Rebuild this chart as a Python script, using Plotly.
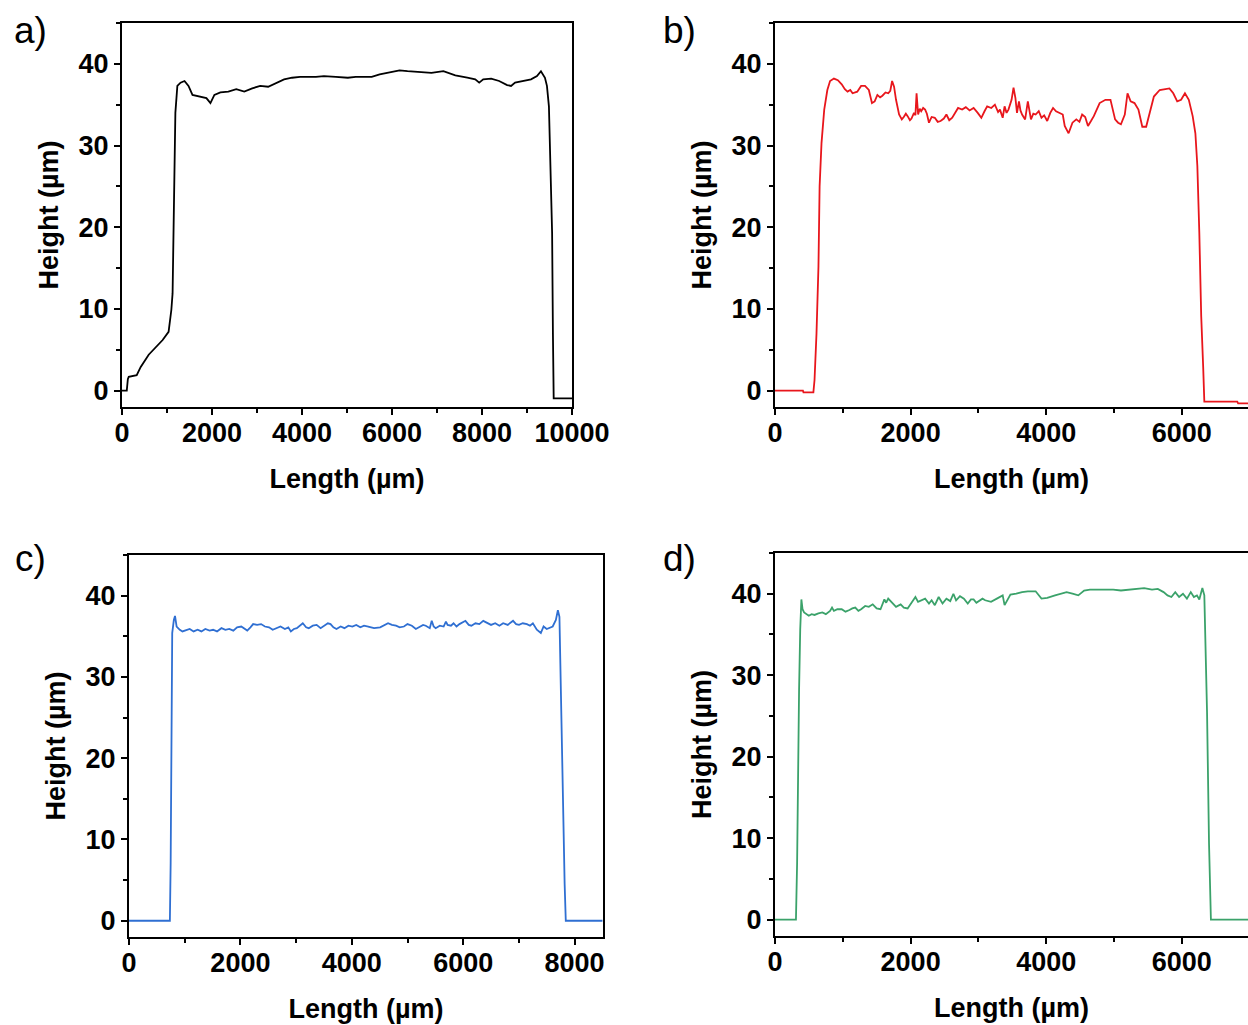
import plotly.graph_objects as go

W, H = 1248, 1025

# ---------------- data ----------------
a_x = [0, 106, 130, 150, 327, 416, 593, 770, 903, 1035,
       1053, 1097, 1124, 1142, 1186, 1230, 1301, 1389, 1478, 1566,
       1743, 1876, 1965, 2053, 2186, 2363, 2540, 2717, 2894, 3071,
       3248, 3425, 3602, 3779, 3956, 4310, 4487, 4752, 5018, 5195,
       5549, 5726, 5991, 6168, 6345, 6611, 6876, 7142, 7407, 7673,
       7850, 7938, 8027, 8204, 8381, 8558, 8646, 8735, 8912, 9089,
       9222, 9310, 9399, 9443, 9487, 9514, 9558, 9576, 9593, 10000]
a_y = [0, 0, 1.4, 1.7, 1.9, 2.9, 4.4, 5.4, 6.2, 7.2,
       8.0, 9.9, 11.9, 19.7, 34.0, 37.3, 37.7, 37.9, 37.3, 36.2,
       36.0, 35.8, 35.2, 36.2, 36.5, 36.6, 36.9, 36.6, 37.0, 37.3,
       37.2, 37.7, 38.1, 38.3, 38.4, 38.4, 38.5, 38.4, 38.3, 38.4,
       38.4, 38.7, 39.0, 39.2, 39.1, 39.0, 38.9, 39.1, 38.6, 38.3,
       38.1, 37.7, 38.1, 38.2, 37.9, 37.4, 37.3, 37.7, 37.9, 38.1,
       38.5, 39.1, 38.3, 37.3, 34.8, 29.9, 19.3, 7.0, -0.94, -0.94]

b_x = [0, 412, 420, 566, 583, 612, 641, 658, 686, 726,
       772, 812, 869, 927, 984, 1030, 1070, 1110, 1144, 1213,
       1270, 1327, 1384, 1430, 1470, 1510, 1550, 1584, 1630, 1670,
       1700, 1727, 1756, 1785, 1830, 1870, 1899, 1930, 1956, 1990,
       2013, 2050, 2071, 2088, 2111, 2135, 2156, 2185, 2214, 2240,
       2271, 2310, 2357, 2400, 2442, 2490, 2528, 2570, 2614, 2660,
       2700, 2760, 2814, 2870, 2929, 2990, 3043, 3090, 3129, 3190,
       3243, 3290, 3318, 3358, 3386, 3415, 3443, 3489, 3518, 3546,
       3569, 3598, 3620, 3644, 3689, 3729, 3775, 3810, 3844, 3890,
       3930, 3970, 4015, 4060, 4101, 4145, 4187, 4244, 4273, 4330,
       4387, 4444, 4490, 4530, 4575, 4616, 4660, 4702, 4788, 4873,
       4948, 5016, 5060, 5102, 5159, 5199, 5245, 5302, 5360, 5417,
       5474, 5514, 5550, 5588, 5674, 5760, 5817, 5874, 5932, 5989,
       6046, 6103, 6160, 6200, 6229, 6258, 6286, 6315, 6332, 6818,
       6830, 7000]
b_y = [0, 0, -0.2, -0.2, 1.3, 7.0, 15.2, 25.0, 30.3, 34.4,
       36.8, 37.9, 38.2, 38.0, 37.5, 36.9, 36.6, 36.8, 36.4, 36.6,
       37.3, 37.3, 36.8, 35.2, 35.4, 36.2, 35.9, 36.1, 36.5, 36.4,
       36.7, 37.9, 37.2, 35.6, 33.8, 33.2, 33.5, 33.9, 33.6, 33.1,
       33.3, 34.0, 33.7, 36.4, 33.8, 34.5, 34.2, 34.6, 34.4, 33.9,
       32.8, 33.5, 33.4, 32.9, 33.0, 33.3, 33.8, 33.1, 33.4, 34.0,
       34.6, 34.4, 34.7, 34.3, 34.6, 34.0, 33.4, 34.2, 34.8, 34.6,
       35.0, 34.1, 34.4, 33.4, 34.8, 34.0, 34.4, 35.6, 37.1, 35.8,
       34.0, 35.4, 34.3, 33.8, 33.2, 35.4, 33.2, 33.9, 33.8, 34.2,
       33.4, 33.7, 33.0, 34.0, 34.6, 34.2, 34.0, 33.8, 32.4, 31.5,
       32.8, 33.2, 32.9, 33.8, 33.5, 32.4, 33.0, 33.6, 35.2, 35.6,
       35.6, 33.2, 32.8, 32.6, 33.8, 36.4, 35.4, 35.2, 34.4, 32.3,
       32.3, 33.6, 34.8, 36.0, 36.8, 36.9, 37.0, 36.4, 35.4, 35.6,
       36.4, 35.6, 33.6, 31.5, 27.5, 19.3, 9.1, 2.9, -1.35, -1.35,
       -1.55, -1.55]

c_x = [0, 734, 748, 755, 762, 776, 805, 826, 855, 912,
       960, 1019, 1090, 1160, 1232, 1300, 1370, 1446, 1510, 1580,
       1660, 1730, 1800, 1873, 1940, 2016, 2070, 2123, 2180, 2229,
       2300, 2372, 2440, 2514, 2580, 2657, 2720, 2799, 2860, 2906,
       2960, 3013, 3070, 3120, 3180, 3227, 3300, 3369, 3440, 3512,
       3570, 3618, 3670, 3725, 3800, 3868, 3940, 4010, 4080, 4153,
       4220, 4295, 4400, 4509, 4580, 4651, 4720, 4794, 4860, 4936,
       5000, 5079, 5150, 5221, 5280, 5328, 5400, 5435, 5470, 5506,
       5580, 5649, 5690, 5720, 5780, 5827, 5880, 5933, 6000, 6040,
       6100, 6147, 6220, 6290, 6360, 6432, 6500, 6575, 6650, 6717,
       6800, 6895, 6950, 7002, 7070, 7144, 7200, 7251, 7322, 7394,
       7443, 7500, 7536, 7607, 7664, 7700, 7728, 7743, 7771, 7799,
       7821, 7842, 8500]
c_y = [0, 0, 7.1, 16.1, 25.5, 35.4, 37.0, 37.5, 36.2, 35.8,
       35.6, 35.7, 35.9, 35.6, 35.8, 35.6, 35.9, 35.7, 35.8, 35.6,
       36.0, 35.8, 35.9, 35.7, 36.1, 36.2, 35.9, 35.7, 36.1, 36.5,
       36.4, 36.5, 36.2, 36.1, 35.8, 36.0, 36.2, 35.9, 36.1, 35.6,
       35.9, 36.0, 36.3, 36.6, 36.1, 36.0, 36.3, 36.4, 36.0, 36.3,
       36.6, 36.5, 36.1, 35.9, 36.2, 36.0, 36.3, 36.2, 36.4, 36.1,
       36.3, 36.2, 36.0, 36.1, 36.3, 36.6, 36.4, 36.3, 36.1, 36.2,
       36.5, 36.3, 35.9, 36.2, 36.4, 36.3, 36.0, 36.9, 36.2, 36.0,
       36.3, 36.2, 36.8, 36.4, 36.3, 36.6, 36.2, 36.5, 36.8, 36.9,
       36.4, 36.3, 36.6, 36.5, 36.9, 36.6, 36.4, 36.6, 36.3, 36.6,
       36.4, 36.9, 36.5, 36.4, 36.6, 36.5, 36.3, 36.6, 35.8, 35.4,
       36.2, 35.9, 36.0, 36.2, 37.0, 38.2, 37.4, 31.7, 22.6, 13.2,
       4.6, 0, 0]

d_x = [0, 309, 326, 337, 355, 372, 389, 406, 429, 498,
       540, 583, 640, 698, 750, 812, 841, 869, 920, 984,
       1040, 1098, 1140, 1184, 1230, 1270, 1330, 1384, 1441, 1499,
       1556, 1613, 1640, 1670, 1727, 1785, 1853, 1900, 1956, 2013,
       2071, 2110, 2156, 2214, 2271, 2310, 2357, 2414, 2471, 2528,
       2585, 2631, 2671, 2728, 2786, 2843, 2890, 2929, 2970, 3014,
       3060, 3100, 3186, 3272, 3358, 3386, 3415, 3472, 3558, 3644,
       3729, 3844, 3930, 4015, 4130, 4216, 4301, 4387, 4473, 4559,
       4645, 4759, 4873, 4988, 5102, 5217, 5331, 5445, 5560, 5646,
       5731, 5789, 5846, 5903, 5960, 6017, 6075, 6132, 6178, 6223,
       6258, 6303, 6332, 6349, 6372, 6401, 6429, 7000]
d_y = [0, 0, 6.9, 18.4, 28.2, 35.6, 39.3, 38.1, 37.7, 37.3,
       37.5, 37.4, 37.6, 37.7, 37.5, 37.9, 38.3, 37.9, 38.1, 38.1,
       37.8, 38.0, 38.2, 38.3, 37.9, 38.1, 38.5, 38.4, 38.7, 38.2,
       38.1, 39.3, 38.9, 39.4, 38.9, 38.4, 38.7, 38.3, 38.2, 38.9,
       39.6, 39.0, 39.2, 39.4, 38.8, 39.2, 38.6, 39.6, 38.8, 39.4,
       39.1, 40.0, 39.2, 39.7, 39.4, 38.8, 39.3, 39.3, 38.9, 39.1,
       39.4, 39.2, 39.0, 39.4, 39.8, 38.6, 39.0, 39.9, 40.0, 40.2,
       40.3, 40.3, 39.4, 39.5, 39.8, 40.0, 40.2, 40.0, 39.8, 40.4,
       40.5, 40.5, 40.5, 40.5, 40.4, 40.5, 40.6, 40.7, 40.5, 40.6,
       40.2, 39.8, 39.6, 40.2, 39.6, 40.0, 39.4, 40.2, 39.6, 39.8,
       39.3, 40.7, 39.8, 33.6, 25.4, 9.4, 0, 0]

x_title = "Length (µm)"
y_title = "Height (µm)"
panel_labels = ["a)", "b)", "c)", "d)"]
x_ranges = [[0, 10000], [0, 6976], [0, 8510], [0, 6976]]
y_range = [-2, 45]
colors = ["#000000", "#e8161c", "#2f6fd2", "#3ba26a"]

# ---------------- figure ----------------
def px_x(p):
    return p / W

def px_y(p):
    return 1 - p / H

# pixel boxes: (left, right, top, bottom)
boxes = [(122, 572, 23, 407), (775, 1248, 23, 407), (129, 603, 555, 937), (775, 1248, 553, 936)]
series = [(a_x, a_y), (b_x, b_y), (c_x, c_y), (d_x, d_y)]
right_frame = [True, False, True, False]

fig = go.Figure()
font_family = "Liberation Sans, Arial, sans-serif"
TICK_SIZE = 27
TITLE_SIZE = 27

layout = dict(
    width=W, height=H,
    margin=dict(l=0, r=0, t=0, b=0),
    paper_bgcolor="white", plot_bgcolor="white",
    showlegend=False,
    font=dict(family=font_family, color="black"),
)

annotations = []
for i, ((sx, sy), (l, r, t, b)) in enumerate(zip(series, boxes)):
    n = "" if i == 0 else str(i + 1)
    fig.add_trace(go.Scatter(x=sx, y=sy, mode="lines",
                             line=dict(color=colors[i], width=1.8),
                             xaxis="x" + n, yaxis="y" + n))
    layout["xaxis" + n] = dict(
        domain=[px_x(l), px_x(r)], range=x_ranges[i], anchor="y" + n,
        showline=True, linecolor="black", linewidth=2, mirror=True,
        ticks="outside", ticklen=6, tickwidth=2, tickcolor="black",
        tick0=0, dtick=2000, tickformat="d", ticklabelstandoff=-5,
        minor=dict(ticks="outside", dtick=1000, ticklen=4, tickwidth=1.5, tickcolor="black"),
        showgrid=False, zeroline=False,
        tickfont=dict(size=TICK_SIZE, weight="bold", family=font_family),
        title=dict(text=x_title, font=dict(size=TITLE_SIZE, weight="bold", family=font_family), standoff=22),
        automargin=False,
    )
    layout["yaxis" + n] = dict(
        domain=[px_y(b), px_y(t)], range=y_range, anchor="x" + n,
        showline=True, linecolor="black", linewidth=2, mirror=right_frame[i],
        ticks="outside", ticklen=6, tickwidth=2, tickcolor="black",
        tick0=0, dtick=10,
        minor=dict(ticks="outside", dtick=5, ticklen=4, tickwidth=1.5, tickcolor="black"),
        showgrid=False, zeroline=False,
        tickfont=dict(size=TICK_SIZE, weight="bold", family=font_family),
        title=dict(text=y_title, font=dict(size=TITLE_SIZE, weight="bold", family=font_family), standoff=12),
        automargin=False,
    )
    lx = 31 if i % 2 == 0 else 679
    ly = 30 if i < 2 else 558
    annotations.append(dict(text=panel_labels[i], x=px_x(lx), y=px_y(ly), xref="paper", yref="paper",
                            xanchor="center", yanchor="middle", showarrow=False,
                            font=dict(size=37, family=font_family, color="black")))

layout["annotations"] = annotations
fig.update_layout(**layout)
fig.write_html("out.html")
